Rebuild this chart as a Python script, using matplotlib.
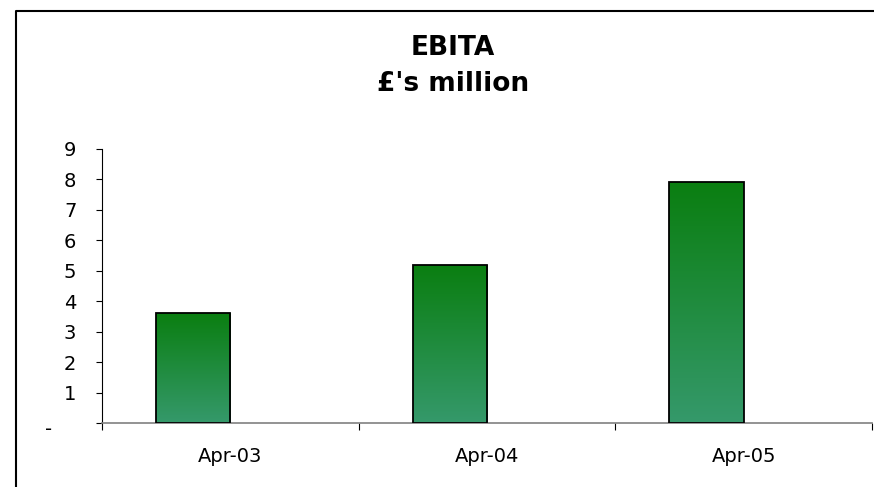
import numpy as np
import matplotlib.pyplot as plt
from matplotlib.colors import LinearSegmentedColormap
from matplotlib.lines import Line2D
from matplotlib.transforms import ScaledTranslation

# EBITA by year end
periods = ["Apr-03", "Apr-04", "Apr-05"]
ebita = [3.62, 5.2, 7.92]
y_ticks = [0, 1, 2, 3, 4, 5, 6, 7, 8, 9]
y_labels = ["-", "1", "2", "3", "4", "5", "6", "7", "8", "9"]

plt.rcParams['font.family'] = 'DejaVu Sans'

fig = plt.figure(figsize=(8.74, 4.87), dpi=100)
ax = fig.add_axes([102/874, 1 - 423/487, 770/874, 274/487])

x = np.arange(len(periods))
bar_w = 0.29
bars = ax.bar(x - bar_w/2, ebita, width=bar_w, edgecolor='black', linewidth=1.3,
              facecolor='none', zorder=3)

# vertical green gradient inside each bar
green = LinearSegmentedColormap.from_list("g", ["#35996b", "#0a7e10"])
grad = np.linspace(0, 1, 256).reshape(-1, 1)
for b in bars:
    x0, y0 = b.get_x(), b.get_y()
    im = ax.imshow(grad, cmap=green, origin='lower', aspect='auto',
                   extent=[x0, x0 + b.get_width(), y0, y0 + b.get_height()], zorder=2)
    im.set_clip_path(b)

ax.set_xlim(-0.5, len(periods) - 0.5)
ax.set_ylim(0, 9)

ax.set_yticks(y_ticks)
ax.set_yticklabels(y_labels)
ax.set_xticks(x)
ax.set_xticklabels(periods)
ax.set_xticks(np.arange(len(periods) + 1) - 0.5, minor=True)

ax.tick_params(axis='y', direction='out', length=4.5, width=0.8, color='black',
               labelsize=14, pad=14)
ax.tick_params(axis='x', which='major', length=0, labelsize=14, pad=17)
ax.tick_params(axis='x', which='minor', direction='out', length=5, width=0.8, color='black')

for s in ['top', 'right']:
    ax.spines[s].set_visible(False)
ax.spines['left'].set_color('black')
ax.spines['left'].set_linewidth(0.8)
ax.spines['bottom'].set_color('#808080')
ax.spines['bottom'].set_linewidth(1.2)

# shift the dash used for zero further left
zero_lab = ax.get_yticklabels()[0]
zero_lab.set_transform(zero_lab.get_transform() + ScaledTranslation(-0.24, -0.04, fig.dpi_scale_trans))

# chart title
fig.text(453/874, 1 - 55/487, "EBITA", ha='center', va='baseline',
         fontsize=19, fontweight='bold')
fig.text(453/874, 1 - 91/487, "£'s million", ha='center', va='baseline',
         fontsize=19, fontweight='bold')

# chart area border (left and top edges)
fig.add_artist(Line2D([16/874, 16/874, 1], [0, 1 - 11/487, 1 - 11/487],
                      transform=fig.transFigure, color='black', linewidth=1.5))

fig.savefig("out.png", dpi=100)
